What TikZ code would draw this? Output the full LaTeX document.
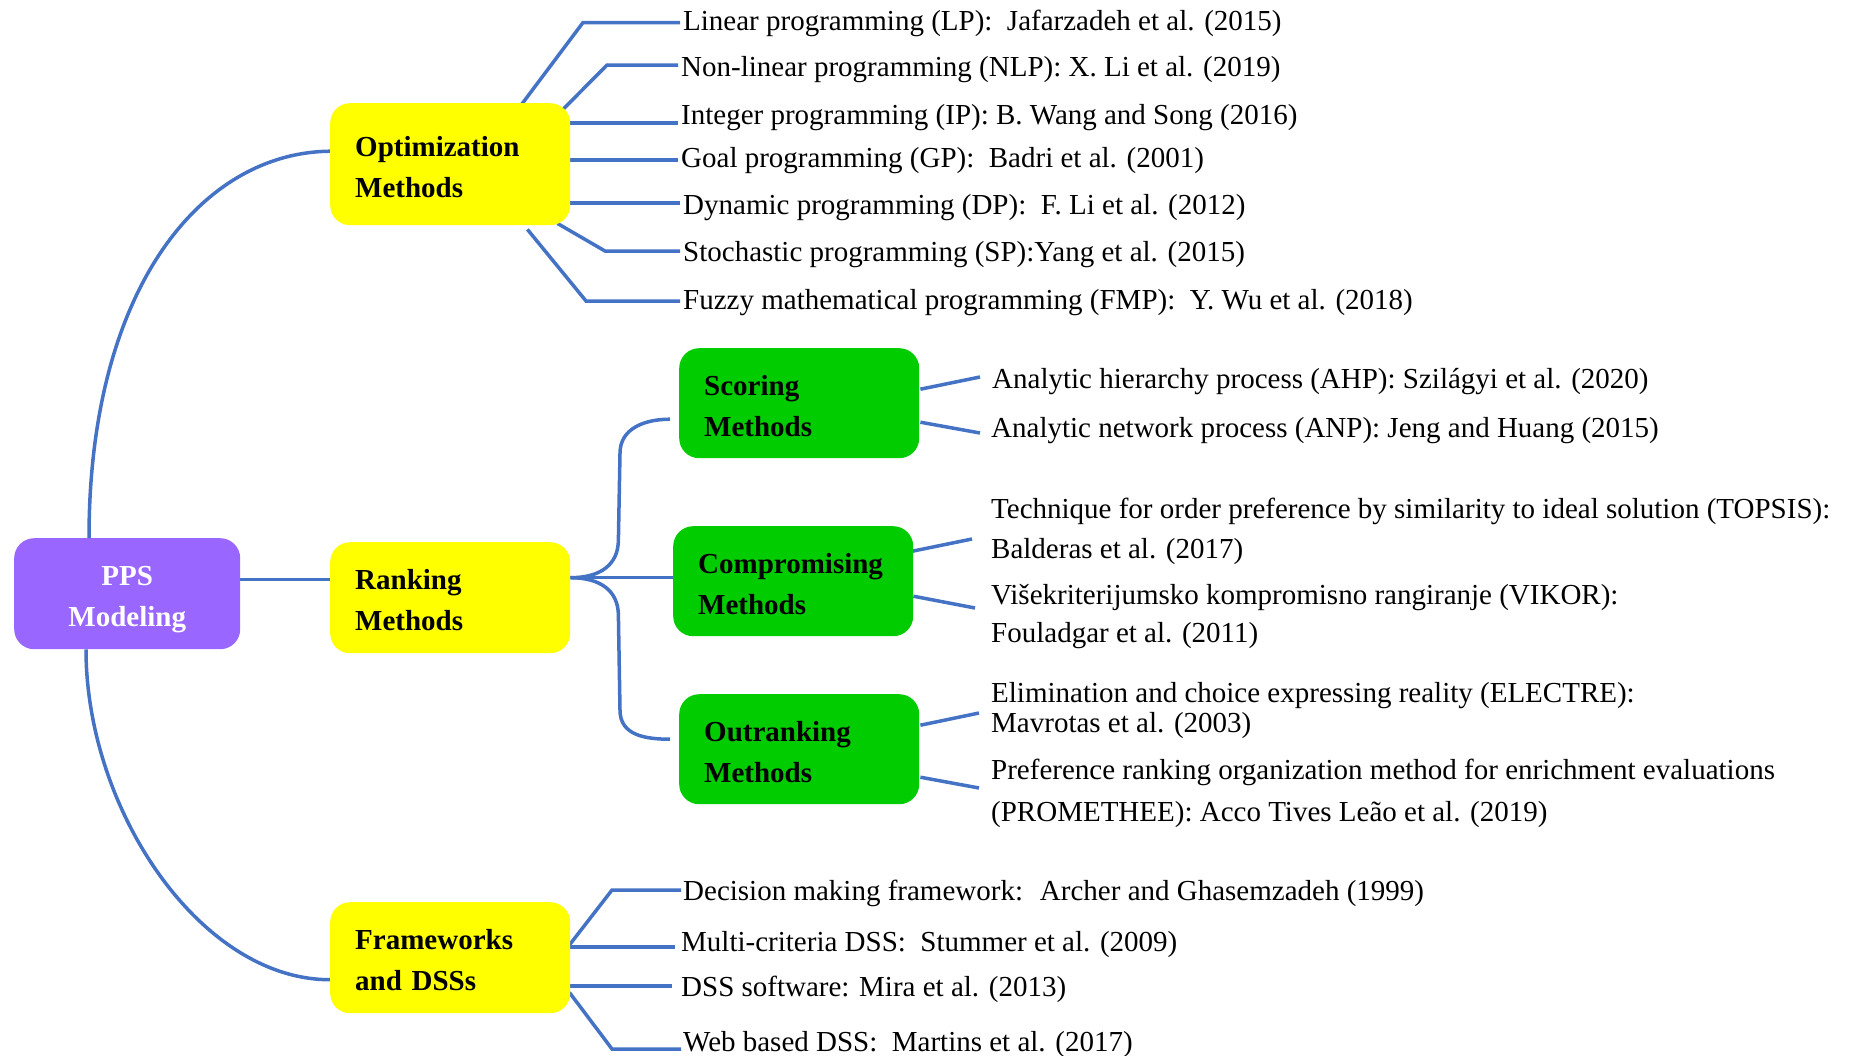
\documentclass[tikz,border=0pt]{standalone}
\usepackage{fontspec}
\setmainfont{Liberation Serif}
\usetikzlibrary{calc}
\definecolor{linkblue}{HTML}{4472C4}
\definecolor{rootviolet}{HTML}{9966FF}
\definecolor{branchyellow}{HTML}{FFFF00}
\definecolor{leafgreen}{HTML}{00CC00}
\pgfdeclarelayer{links}
\pgfsetlayers{links,main}
\tikzset{
  box/.style={rounded corners=20bp, minimum height=111bp, text width=190bp,
    inner xsep=25bp, inner ysep=0pt, align=left, anchor=north west,
    font=\bfseries\fontsize{29bp}{41bp}\selectfont,
    execute at begin node={\rule{0pt}{25bp}}},
  rootbox/.style={box, fill=rootviolet, text=white, align=center, text width=176bp,
    execute at begin node={\rule{0pt}{31bp}}},
  methodbox/.style={box, fill=branchyellow},
  familybox/.style={box, fill=leafgreen, minimum height=110bp},
  item/.style={anchor=west, inner sep=0pt, text height=20bp, text depth=0bp,
    font=\fontsize{29bp}{35bp}\selectfont},
  conn/.style={draw=linkblue, line width=3.5bp},
}
\begin{document}
\begin{tikzpicture}[x=1bp,y=-1bp]
\useasboundingbox (0,0) rectangle (1854,1055);

% root and first-level branches
\node[rootbox]   (pps)   at (14,538)  {PPS\\Modeling};
\node[methodbox, minimum height=122bp] (opt) at (330,103) {Optimization\\Methods};
\node[methodbox] (rank)  at (330,542) {Ranking\\Methods};
\node[methodbox] (frame) at (330,902) {Frameworks\\and DSSs};

% ranking families
\node[familybox] (score) at (679,348) {Scoring\\Methods};
\node[familybox] (comp)  at (673,526) {Compromising\\Methods};
\node[familybox] (outr)  at (679,694) {Outranking\\Methods};

% optimization leaves
\node[item] (lp)  at (683,20.5) {Linear programming (LP):~ Jafarzadeh et al. (2015)};
\node[item] (nlp) at (681,66)   {Non-linear programming (NLP): X. Li et al. (2019)};
\node[item] (ip)  at (681,114)  {Integer programming (IP): B. Wang and Song (2016)};
\node[item] (gp)  at (681,157)  {Goal programming (GP):~ Badri et al. (2001)};
\node[item] (dp)  at (683,204)  {Dynamic programming (DP):~ F. Li et al. (2012)};
\node[item] (sp)  at (683,251)  {Stochastic programming (SP):Yang et al. (2015)};
\node[item] (fmp) at (683,299)  {Fuzzy mathematical programming (FMP):~ Y. Wu et al. (2018)};

% ranking leaves
\node[item] (ahp) at (992,378) {Analytic hierarchy process (AHP): Szilágyi et al. (2020)};
\node[item] (anp) at (991,427) {Analytic network process (ANP): Jeng and Huang (2015)};
\node[item] (topsisA)  at (991,508) {Technique for order preference by similarity to ideal solution (TOPSIS):};
\node[item] (topsisB)  at (991,548) {Balderas et al. (2017)};
\node[item] (vikorA)   at (991,594) {Višekriterijumsko kompromisno rangiranje (VIKOR):};
\node[item] (vikorB)   at (991,632) {Fouladgar et al. (2011)};
\node[item] (electreA) at (991,692) {Elimination and choice expressing reality (ELECTRE):};
\node[item] (electreB) at (991,722) {Mavrotas et al. (2003)};
\node[item] (promA)    at (991,769) {Preference ranking organization method for enrichment evaluations};
\node[item] (promB)    at (991,811) {(PROMETHEE): Acco Tives Leão et al. (2019)};

% framework leaves
\node[item] (dmf)   at (683,890)  {Decision making framework:~ Archer and Ghasemzadeh (1999)};
\node[item] (mcdss) at (681,941)  {Multi-criteria DSS:~ Stummer et al. (2009)};
\node[item] (dsssw) at (681,986)  {DSS software: Mira et al. (2013)};
\node[item] (web)   at (683,1041) {Web based DSS:~ Martins et al. (2017)};

\begin{pgfonlayer}{links}
  % root to branches
  \draw[conn] ($(pps.north west)+(75,0)$) .. controls +(0,-250) and +(-130,0) .. ($(opt.west)+(2,-13)$);
  \draw[conn] ($(pps.east)+(0,-14)$) -- ($(rank.west)+(0,-18)$);
  \draw[conn] ($(pps.south west)+(72,0)$) .. controls +(0,160) and +(-130,0) .. ($(frame.west)+(0,22)$);

  % optimization
  \draw[conn] ($(opt.north east)+(-50,3)$) -- ($(lp.west)+(-100,2)$) -- ($(lp.west)+(-3,2)$);
  \draw[conn] ($(opt.north east)+(-8,7)$) -- ($(nlp.west)+(-74,-1)$) -- ($(nlp.west)+(-3,-1)$);
  \coordinate (ipE) at ($(ip.west)+(-3,9)$);
  \coordinate (gpE) at ($(gp.west)+(-3,3)$);
  \coordinate (dpE) at ($(dp.west)+(-3,-1)$);
  \draw[conn] (opt.east |- ipE) -- (ipE);
  \draw[conn] (opt.east |- gpE) -- (gpE);
  \draw[conn] (opt.east |- dpE) -- (dpE);
  \draw[conn] ($(opt.south east)+(-13,-2)$) -- ($(sp.west)+(-78,0)$) -- ($(sp.west)+(-3,0)$);
  \draw[conn] ($(opt.south east)+(-43,4)$) -- ($(fmp.west)+(-97,2)$) -- ($(fmp.west)+(-3,2)$);

  % ranking tree
  \coordinate (fork) at ($(rank.east)+(0,-20)$);
  \draw[conn] (fork) -- (fork -| comp.west);
  \draw[conn] (fork) .. controls +(30,0) and +(0,25) .. ++(48,-38)
    -- ($(score.west)+(-59,50)$) .. controls +(0,-25) and +(-25,0) .. ($(score.west)+(-9,16)$);
  \draw[conn] (fork) .. controls +(30,0) and +(0,-25) .. ++(48,38)
    -- ($(outr.west)+(-59,-39)$) .. controls +(0,25) and +(-25,0) .. ($(outr.west)+(-9,-10)$);

  % scoring, compromising, outranking leaves
  \draw[conn] ($(score.east)+(1,-14)$) -- ($(ahp.west)+(-12,-1)$);
  \draw[conn] ($(score.east)+(1,19)$) -- ($(anp.west)+(-11,6)$);
  \draw[conn] ($(comp.east)+(-1,-30)$) -- ($(topsisB.west)+(-19,-9)$);
  \draw[conn] ($(comp.east)+(0,15)$) -- ($(vikorA.west)+(-16,14)$);
  \draw[conn] ($(outr.east)+(1,-24)$) -- ($(electreB.west)+(-12,-9)$);
  \draw[conn] ($(outr.east)+(1,28)$) -- ($(promA.west)+(-12,19)$);

  % frameworks
  \draw[conn] ($(frame.north east)+(-1,43)$) -- ($(dmf.west)+(-71,0)$) -- ($(dmf.west)+(-2,0)$);
  \coordinate (mcE) at ($(mcdss.west)+(-6,6)$);
  \coordinate (swE) at ($(dsssw.west)+(-9,0)$);
  \draw[conn] (frame.east |- mcE) -- (mcE);
  \draw[conn] (frame.east |- swE) -- (swE);
  \draw[conn] ($(frame.south east)+(-1,-21)$) -- ($(web.west)+(-71,8)$) -- ($(web.west)+(-2,8)$);
\end{pgfonlayer}
\end{tikzpicture}
\end{document}
